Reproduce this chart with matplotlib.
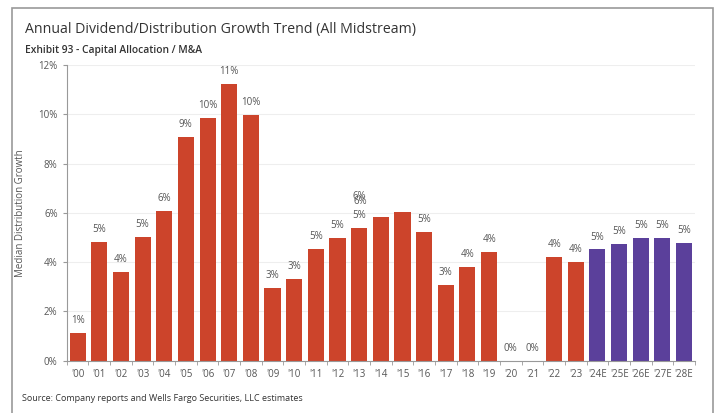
import matplotlib.pyplot as plt
import numpy as np
from matplotlib.patches import Rectangle
from matplotlib.ticker import FuncFormatter

plt.rcParams["font.family"] = ["Open Sans", "DejaVu Sans"]

# Data
years = ["'00", "'01", "'02", "'03", "'04", "'05", "'06", "'07", "'08", "'09",
         "'10", "'11", "'12", "'13", "'14", "'15", "'16", "'17", "'18", "'19",
         "'20", "'21", "'22", "'23", "'24E", "'25E", "'26E", "'27E", "'28E"]
growth = [1.11, 4.81, 3.59, 5.01, 6.08, 9.09, 9.85, 11.23, 9.97, 2.93,
          3.33, 4.52, 4.99, 5.38, 5.83, 6.03, 5.22, 3.05, 3.79, 4.39,
          0.0, 0.0, 4.21, 4.01, 4.51, 4.74, 4.97, 4.97, 4.78]
labels = ["1%", "5%", "4%", "5%", "6%", "9%", "10%", "11%", "10%", "3%",
          "3%", "5%", "5%", "5%", "", "", "5%", "3%", "4%", "4%",
          "0%", "0%", "4%", "4%", "5%", "5%", "5%", "5%", "5%"]
n_actual = 24  # '00-'23 actuals, rest are estimates

RED = "#CC442B"
PURPLE = "#5B409B"
GRAY = "#555555"
FS = 7

fig = plt.figure(figsize=(7.18, 4.13), dpi=100)
ax = fig.add_axes([0.0929, 0.127, 0.875, 0.7156])

x = np.arange(len(years))
colors = [RED if i < n_actual else PURPLE for i in range(len(years))]
ax.bar(x, growth, width=0.74, color=colors, zorder=2)

for i, (v, lab) in enumerate(zip(growth, labels)):
    if lab:
        ax.annotate(lab, (i, v), xytext=(0, 5), textcoords="offset points",
                    ha="center", va="bottom", fontsize=FS, color=GRAY)

# overlapping labels stacked over '13 in the original
ax.annotate("6%", (13, growth[13]), xytext=(0, 19), textcoords="offset points",
            ha="center", va="bottom", fontsize=FS, color=GRAY)
ax.annotate("6%", (13, growth[13]), xytext=(0.5, 15), textcoords="offset points",
            ha="center", va="bottom", fontsize=FS, color=GRAY)

ax.set_xlim(-0.5, len(years) - 0.5)
ax.set_ylim(0, 12)
ax.set_yticks(np.arange(0, 13, 2))
ax.yaxis.set_major_formatter(FuncFormatter(lambda v, p: f"{v:.0f}%"))
ax.set_xticks(x)
ax.set_xticklabels(years)
ax.set_xticks(np.arange(-0.5, len(years), 1), minor=True)
ax.tick_params(axis="x", which="major", length=0, pad=6, labelsize=FS, labelcolor=GRAY)
ax.tick_params(axis="x", which="minor", length=3, color="#999999")
ax.tick_params(axis="y", length=3, color="#999999", labelsize=FS, labelcolor=GRAY)

ax.grid(axis="y", color="#eeeeee", linewidth=0.8, zorder=0)
for side in ["top", "right"]:
    ax.spines[side].set_visible(False)
ax.spines["left"].set_color("#999999")
ax.spines["bottom"].set_color("#999999")

ax.set_ylabel("Median Distribution Growth", fontsize=FS, color=GRAY, labelpad=9)

fig.text(0.035, 0.92, "Annual Dividend/Distribution Growth Trend (All Midstream)",
         fontsize=10.2, color="#333333")
fig.text(0.035, 0.872, "Exhibit 93 - Capital Allocation / M&A",
         fontsize=7.4, color="#333333", fontweight="semibold")
fig.text(0.03, 0.03, "Source: Company reports and Wells Fargo Securities, LLC estimates",
         fontsize=6.5, color="#333333")

# outer border
fig.patches.append(Rectangle((12 / 718, -0.05), 701 / 718, 1 - 8 / 413 + 0.05,
                             transform=fig.transFigure, fill=False,
                             edgecolor="#999999", linewidth=1.2))

fig.savefig("out.png", dpi=100)
